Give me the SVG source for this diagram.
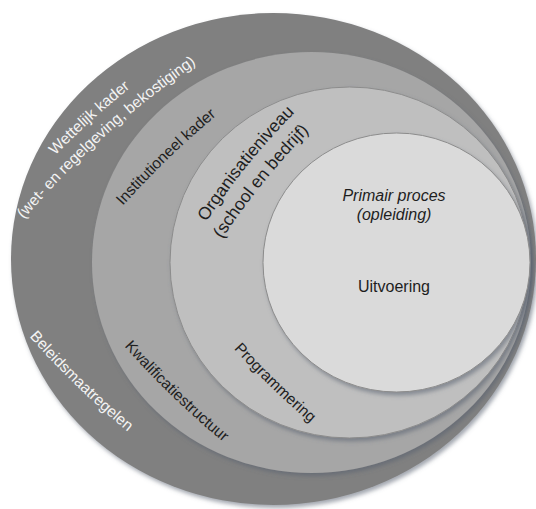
<svg xmlns="http://www.w3.org/2000/svg" width="536" height="509" viewBox="0 0 536 509">
<defs>
<filter id="sh" x="-10%" y="-10%" width="125%" height="125%">
<feDropShadow dx="2" dy="3" stdDeviation="2" flood-color="#56606e" flood-opacity="0.55"/>
</filter>
<path id="p1" d="M7.9,206.8 A900,900 0 0 1 186.3,46.2"/>
<path id="p2" d="M17.9,226.1 A900,900 0 0 1 203.7,58.9"/>
<path id="p3" d="M87.3,248.1 A900,900 0 0 1 259.9,81.4"/>
<path id="p4" d="M185.3,256 A700,700 0 0 1 323.8,85"/>
<path id="p5" d="M200.5,274 A700,700 0 0 1 339,103"/>
<path id="p6" d="M-4,296.9 A900,900 0 0 0 168.6,463.6"/>
<path id="p7" d="M91.3,306.9 A900,900 0 0 0 263.9,473.6"/>
<path id="p8" d="M190.3,297.9 A900,900 0 0 0 362.9,464.6"/>
</defs>
<style>
.lbl{font-family:"Liberation Sans",Arial,sans-serif;font-size:15.5px}
.big{font-size:17.5px}
.ctr{font-family:"Liberation Sans",Arial,sans-serif;font-size:16px;fill:#1e1e1e;text-anchor:middle}
.w{fill:#f4f4f4}
.k{fill:#1e1e1e}
.ring{filter:url(#sh)}
</style>
<rect width="536" height="509" fill="#ffffff"/>
<g id="wettelijk-kader">
<ellipse class="ring" cx="273.5" cy="259" rx="262.5" ry="246" fill="#808080"/>
<text class="lbl w"><textPath href="#p1" startOffset="50%" text-anchor="middle">Wettelijk kader</textPath></text>
<text class="lbl w"><textPath href="#p2" startOffset="50%" text-anchor="middle">(wet- en regelgeving, bekostiging)</textPath></text>
<text class="lbl w"><textPath href="#p6" startOffset="50%" text-anchor="middle">Beleidsmaatregelen</textPath></text>
</g>
<g id="institutioneel-kader">
<ellipse class="ring" cx="311.5" cy="262.5" rx="219.5" ry="210.5" fill="#a6a6a6"/>
<text class="lbl k"><textPath href="#p3" startOffset="50%" text-anchor="middle">Institutioneel kader</textPath></text>
<text class="lbl k"><textPath href="#p7" startOffset="50%" text-anchor="middle">Kwalificatiestructuur</textPath></text>
</g>
<g id="organisatieniveau">
<ellipse class="ring" cx="349.5" cy="262.5" rx="179.5" ry="175.5" fill="#bfbfbf" stroke="#8c8c8c" stroke-width="1"/>
<text class="lbl big k"><textPath href="#p4" startOffset="50%" text-anchor="middle">Organisatieniveau</textPath></text>
<text class="lbl big k"><textPath href="#p5" startOffset="50%" text-anchor="middle">(school en bedrijf)</textPath></text>
<text class="lbl k"><textPath href="#p8" startOffset="50%" text-anchor="middle">Programmering</textPath></text>
</g>
<g id="primair-proces">
<ellipse class="ring" cx="396.5" cy="262.5" rx="133.5" ry="129.5" fill="#dadada" stroke="#8c8c8c" stroke-width="1"/>
<text class="ctr" x="394" y="201" font-style="italic">Primair proces</text>
<text class="ctr" x="394" y="220" font-style="italic">(opleiding)</text>
<text class="ctr" x="394" y="292">Uitvoering</text>
</g>
</svg>
